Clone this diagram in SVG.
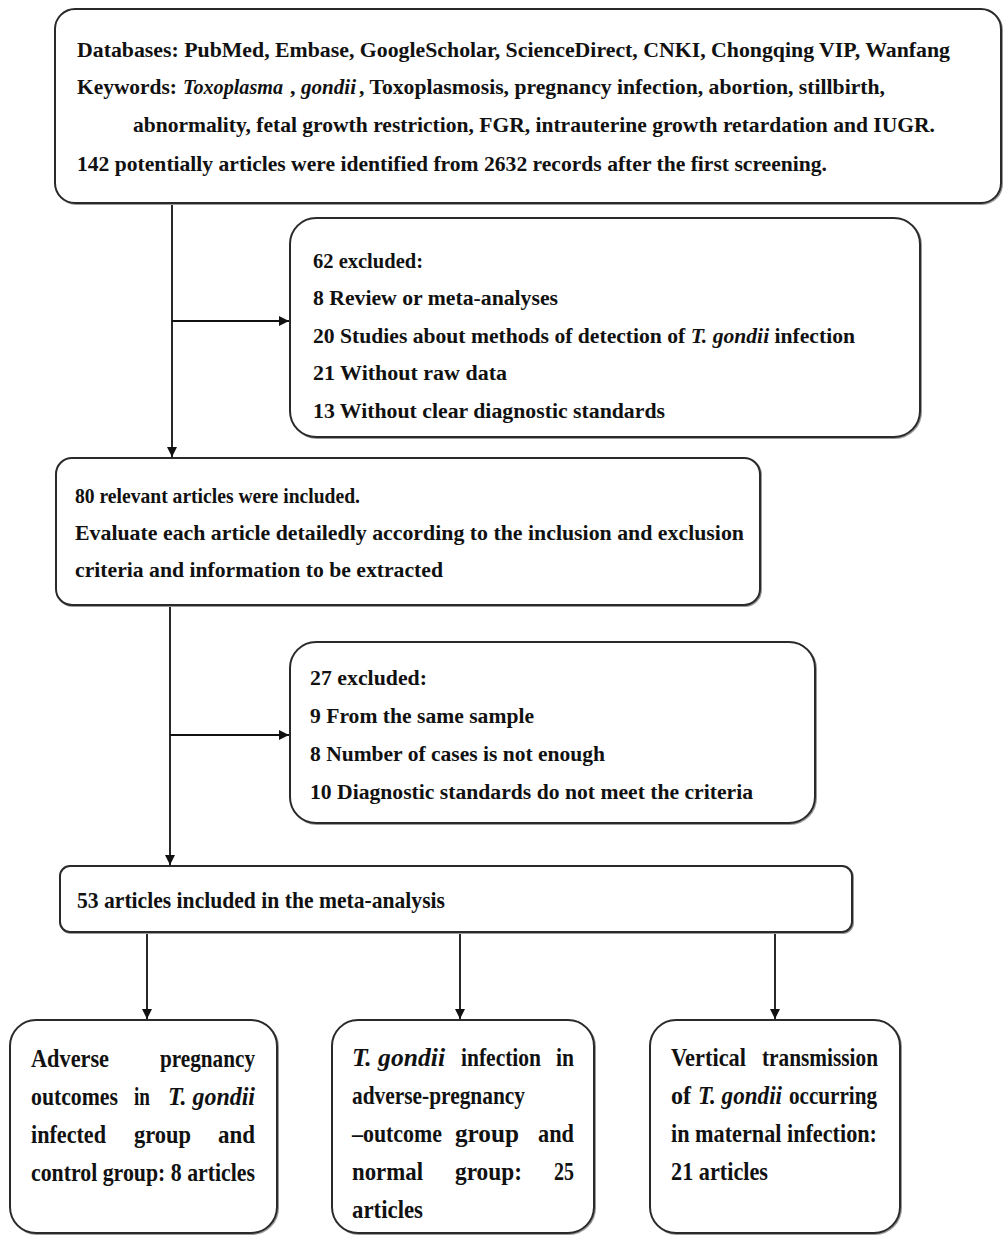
<svg xmlns="http://www.w3.org/2000/svg" width="1004" height="1237" viewBox="0 0 1004 1237">
<style>
.box{fill:#fff;stroke:#2a2a2a;stroke-width:2}
.shadow{fill:none;stroke:#9a9a9a;stroke-width:2}
text{font-family:"Liberation Serif","Times New Roman",serif;font-weight:bold;fill:#111}
.i{font-style:italic}
.t22{font-size:22px}
.t20{font-size:20px}
.t21{font-size:21px}
.t24{font-size:24px}
.t26{font-size:26px}
.edge{stroke:#111;stroke-width:1.8;fill:none}
</style>
<defs>
<marker id="arr" viewBox="0 0 10 10" refX="10" refY="5" markerWidth="10" markerHeight="10" markerUnits="userSpaceOnUse" orient="auto">
<path d="M0,0 L10,5 L0,10 z" fill="#111"/>
</marker>
</defs>

<g id="connectors">
<line class="edge" x1="172" y1="203" x2="172" y2="457" marker-end="url(#arr)"/>
<line class="edge" x1="172" y1="321" x2="289" y2="321" marker-end="url(#arr)"/>
<line class="edge" x1="170" y1="605" x2="170" y2="865" marker-end="url(#arr)"/>
<line class="edge" x1="170" y1="735" x2="289" y2="735" marker-end="url(#arr)"/>
<line class="edge" x1="147" y1="932" x2="147" y2="1019" marker-end="url(#arr)"/>
<line class="edge" x1="460" y1="932" x2="460" y2="1019" marker-end="url(#arr)"/>
<line class="edge" x1="775" y1="932" x2="775" y2="1019" marker-end="url(#arr)"/>
</g>

<g id="n1">
<rect class="shadow" x="56" y="10" width="946" height="194" rx="20"/>
<rect class="box" x="55" y="9" width="946" height="194" rx="20"/>
<text class="t22" x="77" y="57" textLength="873" lengthAdjust="spacingAndGlyphs">Databases: PubMed, Embase, GoogleScholar, ScienceDirect, CNKI, Chongqing VIP, Wanfang</text>
<text class="t22" x="77" y="94" textLength="100" lengthAdjust="spacingAndGlyphs">Keywords:</text>
<text class="t22 i" x="183" y="94" textLength="100" lengthAdjust="spacingAndGlyphs">Toxoplasma</text>
<text class="t22" x="290" y="94">,</text>
<text class="t22 i" x="301" y="94" textLength="55" lengthAdjust="spacingAndGlyphs">gondii</text>
<text class="t22" x="359" y="94" textLength="526" lengthAdjust="spacingAndGlyphs">, Toxoplasmosis, pregnancy infection, abortion, stillbirth,</text>
<text class="t22" x="133" y="132" textLength="802" lengthAdjust="spacingAndGlyphs">abnormality, fetal growth restriction, FGR, intrauterine growth retardation and IUGR.</text>
<text class="t22" x="77" y="171" textLength="750" lengthAdjust="spacingAndGlyphs">142 potentially articles were identified from 2632 records after the first screening.</text>
</g>

<g id="n2">
<rect class="shadow" x="291" y="219" width="630" height="219" rx="26"/>
<rect class="box" x="290" y="218" width="630" height="219" rx="26"/>
<text class="t20" x="313" y="268" textLength="110" lengthAdjust="spacingAndGlyphs">62 excluded:</text>
<text class="t20" x="313" y="305" textLength="245" lengthAdjust="spacingAndGlyphs">8 Review or meta-analyses</text>
<text class="t20" x="313" y="343" textLength="542" lengthAdjust="spacingAndGlyphs">20 Studies about methods of detection of <tspan class="i">T. gondii</tspan> infection</text>
<text class="t20" x="313" y="380" textLength="194" lengthAdjust="spacingAndGlyphs">21 Without raw data</text>
<text class="t20" x="313" y="418" textLength="352" lengthAdjust="spacingAndGlyphs">13 Without clear diagnostic standards</text>
</g>

<g id="n3">
<rect class="shadow" x="57" y="459" width="704" height="147" rx="16"/>
<rect class="box" x="56" y="458" width="704" height="147" rx="16"/>
<text class="t21" x="75" y="503" textLength="285" lengthAdjust="spacingAndGlyphs">80 relevant articles were included.</text>
<text class="t21" x="75" y="540" textLength="669" lengthAdjust="spacingAndGlyphs">Evaluate each article detailedly according to the inclusion and exclusion</text>
<text class="t21" x="75" y="577" textLength="368" lengthAdjust="spacingAndGlyphs">criteria and information to be extracted</text>
</g>

<g id="n4">
<rect class="shadow" x="291" y="643" width="525" height="181" rx="26"/>
<rect class="box" x="290" y="642" width="525" height="181" rx="26"/>
<text class="t20" x="310" y="685" textLength="117" lengthAdjust="spacingAndGlyphs">27 excluded:</text>
<text class="t20" x="310" y="723" textLength="224" lengthAdjust="spacingAndGlyphs">9 From the same sample</text>
<text class="t20" x="310" y="761" textLength="295" lengthAdjust="spacingAndGlyphs">8 Number of cases is not enough</text>
<text class="t20" x="310" y="799" textLength="443" lengthAdjust="spacingAndGlyphs">10 Diagnostic standards do not meet the criteria</text>
</g>

<g id="n5">
<rect class="shadow" x="61" y="867" width="792" height="66" rx="10"/>
<rect class="box" x="60" y="866" width="792" height="66" rx="10"/>
<text class="t24" x="77" y="908" textLength="368" lengthAdjust="spacingAndGlyphs">53 articles included in the meta-analysis</text>
</g>

<g id="n6">
<rect class="shadow" x="11" y="1021" width="267" height="213" rx="26"/>
<rect class="box" x="10" y="1020" width="267" height="213" rx="26"/>
<text class="t26" x="31" y="1067" textLength="78" lengthAdjust="spacingAndGlyphs">Adverse</text>
<text class="t26" x="160" y="1067" textLength="95" lengthAdjust="spacingAndGlyphs">pregnancy</text>
<text class="t26" x="31" y="1105" textLength="87" lengthAdjust="spacingAndGlyphs">outcomes</text>
<text class="t26" x="134" y="1105" textLength="16" lengthAdjust="spacingAndGlyphs">in</text>
<text class="t26 i" x="168" y="1105" textLength="87" lengthAdjust="spacingAndGlyphs">T. gondii</text>
<text class="t26" x="31" y="1143" textLength="75" lengthAdjust="spacingAndGlyphs">infected</text>
<text class="t26" x="134" y="1143" textLength="57" lengthAdjust="spacingAndGlyphs">group</text>
<text class="t26" x="218" y="1143" textLength="37" lengthAdjust="spacingAndGlyphs">and</text>
<text class="t26" x="31" y="1181" textLength="224" lengthAdjust="spacingAndGlyphs">control group: 8 articles</text>
</g>

<g id="n7">
<rect class="shadow" x="333" y="1021" width="262" height="213" rx="26"/>
<rect class="box" x="332" y="1020" width="262" height="213" rx="26"/>
<text class="t26 i" x="352" y="1066" textLength="93" lengthAdjust="spacingAndGlyphs">T. gondii</text>
<text class="t26" x="461" y="1066" textLength="80" lengthAdjust="spacingAndGlyphs">infection</text>
<text class="t26" x="556" y="1066" textLength="18" lengthAdjust="spacingAndGlyphs">in</text>
<text class="t26" x="352" y="1104" textLength="173" lengthAdjust="spacingAndGlyphs">adverse-pregnancy</text>
<text class="t26" x="352" y="1142" textLength="90" lengthAdjust="spacingAndGlyphs">–outcome</text>
<text class="t26" x="455" y="1142" textLength="64" lengthAdjust="spacingAndGlyphs">group</text>
<text class="t26" x="538" y="1142" textLength="36" lengthAdjust="spacingAndGlyphs">and</text>
<text class="t26" x="352" y="1180" textLength="71" lengthAdjust="spacingAndGlyphs">normal</text>
<text class="t26" x="455" y="1180" textLength="67" lengthAdjust="spacingAndGlyphs">group:</text>
<text class="t26" x="554" y="1180" textLength="20" lengthAdjust="spacingAndGlyphs">25</text>
<text class="t26" x="352" y="1218" textLength="71" lengthAdjust="spacingAndGlyphs">articles</text>
</g>

<g id="n8">
<rect class="shadow" x="651" y="1021" width="250" height="213" rx="26"/>
<rect class="box" x="650" y="1020" width="250" height="213" rx="26"/>
<text class="t26" x="671" y="1066" textLength="75" lengthAdjust="spacingAndGlyphs">Vertical</text>
<text class="t26" x="762" y="1066" textLength="116" lengthAdjust="spacingAndGlyphs">transmission</text>
<text class="t26" x="671" y="1104" textLength="20" lengthAdjust="spacingAndGlyphs">of</text>
<text class="t26 i" x="698" y="1104" textLength="84" lengthAdjust="spacingAndGlyphs">T. gondii</text>
<text class="t26" x="789" y="1104" textLength="88" lengthAdjust="spacingAndGlyphs">occurring</text>
<text class="t26" x="671" y="1142" textLength="206" lengthAdjust="spacingAndGlyphs">in maternal infection:</text>
<text class="t26" x="671" y="1180" textLength="97" lengthAdjust="spacingAndGlyphs">21 articles</text>
</g>
</svg>
